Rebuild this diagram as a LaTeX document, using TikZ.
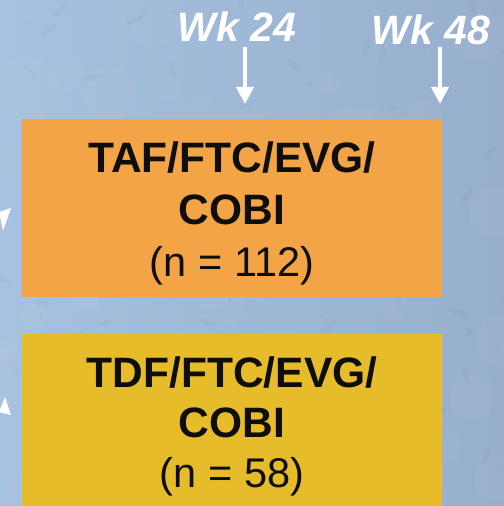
\documentclass[tikz,border=0pt]{standalone}
\usepackage{fontspec}
\setmainfont{Liberation Sans}
\usetikzlibrary{arrows.meta}

\definecolor{bgleft}{HTML}{A7C1E0}
\definecolor{bgright}{HTML}{97AFCD}
\definecolor{armorange}{HTML}{F2A447}
\definecolor{armyellow}{HTML}{E6BC2B}
\definecolor{inktext}{HTML}{0E0E0C}

\tikzset{
  armbox/.style={draw=none, minimum width=420bp, inner sep=0pt, outer sep=0pt},
  boldline/.style={anchor=base, text=inktext, inner sep=0pt,
    font=\fontsize{42.5bp}{51bp}\selectfont\bfseries},
  plainline/.style={anchor=base, text=inktext, inner sep=0pt,
    font=\fontsize{41.5bp}{51bp}\selectfont},
  weeklabel/.style={anchor=base, text=white, inner sep=0pt,
    font=\fontsize{41bp}{51bp}\selectfont\bfseries\itshape},
  weekarrow/.style={draw=white, line width=4bp,
    -{Triangle[width=17bp,length=17bp]}},
}

\begin{document}
\begin{tikzpicture}[x=1bp, y=-1bp]
  \useasboundingbox (0,0) rectangle (504,506);
  \clip (0,0) rectangle (504,506);

  % mottled blue backdrop
  \shade[left color=bgleft, right color=bgright] (0,0) rectangle (504,506);
  \pgfmathsetseed{4242}
  \foreach \i in {1,...,140}{
    \pgfmathsetmacro{\px}{rnd*504}
    \pgfmathsetmacro{\py}{rnd*506}
    \pgfmathsetmacro{\pr}{2+rnd*9}
    \pgfmathsetmacro{\pa}{rnd*180}
    \fill[black, opacity=0.018, rotate around={\pa:(\px,\py)}]
      (\px,\py) ellipse ({\pr} and {\pr*0.3});
  }
  \foreach \i in {1,...,40}{
    \pgfmathsetmacro{\px}{rnd*504}
    \pgfmathsetmacro{\py}{rnd*506}
    \pgfmathsetmacro{\pr}{10+rnd*25}
    \fill[white, opacity=0.025] (\px,\py) circle ({\pr});
  }

  % arm boxes
  \node[armbox, fill=armorange, minimum height=178bp] (tafbox) at (232,208) {};
  \node[armbox, fill=armyellow, minimum height=176bp] (tdfbox) at (232,422) {};

  % box texts
  \node[boldline]  (taf1) at (232,173) {TAF/FTC/EVG/};
  \node[boldline]  (taf2) at (232,224) {COBI};
  \node[plainline] (taf3) at (232,276) {(n = 112)};

  \node[boldline]  (tdf1) at (232,387) {TDF/FTC/EVG/};
  \node[boldline]  (tdf2) at (232,437) {COBI};
  \node[plainline] (tdf3) at (232,487) {(n = 58)};

  % time points
  \node[weeklabel] (wk24) at (237,42) {Wk 24};
  \node[weeklabel] (wk48) at (431,45) {Wk 48};

  \coordinate (a24s) at (245,47);
  \coordinate (a24e) at (245,104);
  \coordinate (a48s) at (440,47);
  \coordinate (a48e) at (440,104);
  \draw[weekarrow] (a24s) -- (a24e);
  \draw[weekarrow] (a48s) -- (a48e);

  % arrow tips entering from the left edge
  \fill[white] (11,208) -- (-1,212) -- (3,231) -- cycle;
  \fill[white] (5,397) -- (11,415) -- (-1,412) -- cycle;
\end{tikzpicture}
\end{document}
